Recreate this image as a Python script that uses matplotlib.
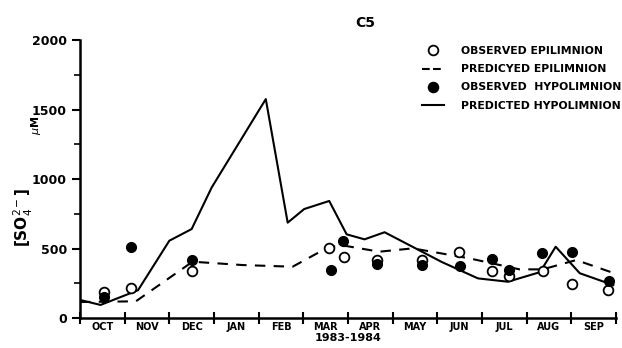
import matplotlib.pyplot as plt
import numpy as np

# month position: 0 = start of Oct 1983, 12 = end of Sep 1984
months = ['OCT', 'NOV', 'DEC', 'JAN', 'FEB', 'MAR', 'APR', 'MAY', 'JUN', 'JUL', 'AUG', 'SEP']

# predicted hypolimnion (solid)
hypo_t = [0.0, 0.46, 1.3, 2.0, 2.5, 2.95, 4.16, 4.65, 5.02, 5.58, 5.97, 6.37, 6.82, 8.1, 8.91, 9.58, 10.3, 10.65, 11.19, 11.94]
hypo_pred = [130, 94, 200, 556, 640, 940, 1575, 686, 784, 842, 602, 566, 617, 403, 285, 261, 330, 513, 322, 237]

# predicted epilimnion (dashed)
epi_t = [0.0, 1.25, 2.52, 3.64, 4.76, 5.58, 5.96, 6.7, 7.45, 8.72, 9.84, 10.36, 11.11, 11.97]
epi_pred = [115, 120, 405, 381, 369, 513, 518, 477, 501, 429, 350, 350, 417, 321]

# observed epilimnion (open circles)
epi_obs_t = [0.54, 1.14, 2.51, 5.58, 5.9, 6.66, 7.66, 8.48, 9.23, 9.6, 10.36, 11.02, 11.82]
epi_obs = [190, 213, 340, 501, 441, 420, 415, 477, 340, 300, 340, 245, 201]

# observed hypolimnion (filled circles)
hypo_obs_t = [0.54, 1.14, 2.51, 5.62, 5.88, 6.66, 7.66, 8.5, 9.23, 9.6, 10.35, 11.02, 11.84]
hypo_obs = [150, 508, 415, 345, 556, 385, 380, 374, 422, 345, 465, 475, 268]

fig = plt.figure(figsize=(6.22, 3.48), dpi=100)
ax = fig.add_axes([0.1286, 0.0862, 0.8617, 0.7988])

ax.plot(hypo_t, hypo_pred, color='black', lw=1.5)
ax.plot(epi_t, epi_pred, color='black', lw=1.5, ls=(0, (5, 4)))
ax.plot(epi_obs_t, epi_obs, 'o', mfc='white', mec='black', mew=1.3, ms=7, ls='none')
ax.plot(hypo_obs_t, hypo_obs, 'o', color='black', ms=7, ls='none')

ax.set_xlim(0, 12)
ax.set_ylim(0, 2000)
ax.spines['top'].set_visible(False)
ax.spines['right'].set_visible(False)
ax.spines['left'].set_linewidth(1.8)
ax.spines['bottom'].set_linewidth(1.8)

ax.set_yticks([0, 500, 1000, 1500, 2000])
ax.set_yticks([250, 750, 1250, 1750], minor=True)
ax.tick_params(axis='y', which='major', direction='out', length=6, width=1.5, labelsize=9)
ax.tick_params(axis='y', which='minor', direction='out', length=4, width=1.2)
for lab in ax.get_yticklabels():
    lab.set_fontweight('bold')

ax.set_xticks(np.arange(0, 13))
ax.set_xticklabels([])
ax.set_xticks(np.arange(12) + 0.5, minor=True)
ax.set_xticklabels(months, minor=True, fontsize=7, fontweight='bold')
ax.tick_params(axis='x', which='major', direction='inout', length=8, width=1.5)
ax.tick_params(axis='x', which='minor', length=0, pad=3)

fig.text(0.56, 0.03, '1983-1984', ha='center', va='center', fontsize=8, fontweight='bold')
fig.text(0.588, 0.935, 'C5', ha='center', va='center', fontsize=10, fontweight='bold')
fig.text(0.037, 0.375, r'[SO$_4^{2-}$]', rotation=90, ha='center', va='center', fontsize=11, fontweight='bold')
fig.text(0.058, 0.64, r'$\mu$M', rotation=90, ha='center', va='center', fontsize=8, fontweight='bold')

# legend
legend_rows = [
    ('o', 'none', 'OBSERVED EPILIMNION', 'white'),
    ('', '--', 'PREDICYED EPILIMNION', None),
    ('o', 'none', 'OBSERVED  HYPOLIMNION', 'black'),
    ('', '-', 'PREDICTED HYPOLIMNION', None),
]
handles = []
for mk, ls, label, fc in legend_rows:
    h, = ax.plot([], [], marker=mk if mk else None, ls=ls, color='black',
                 mfc=fc if fc else 'black', mec='black', mew=1.3, ms=7, lw=1.5, label=label)
    handles.append(h)
leg = ax.legend(handles=handles, loc='upper right', bbox_to_anchor=(1.025, 1.005), frameon=False,
                prop={'size': 7.8, 'weight': 'bold'}, handlelength=2.0, labelspacing=0.75,
                handletextpad=1.6, borderpad=0.2)

fig.savefig('out.png', dpi=100)
